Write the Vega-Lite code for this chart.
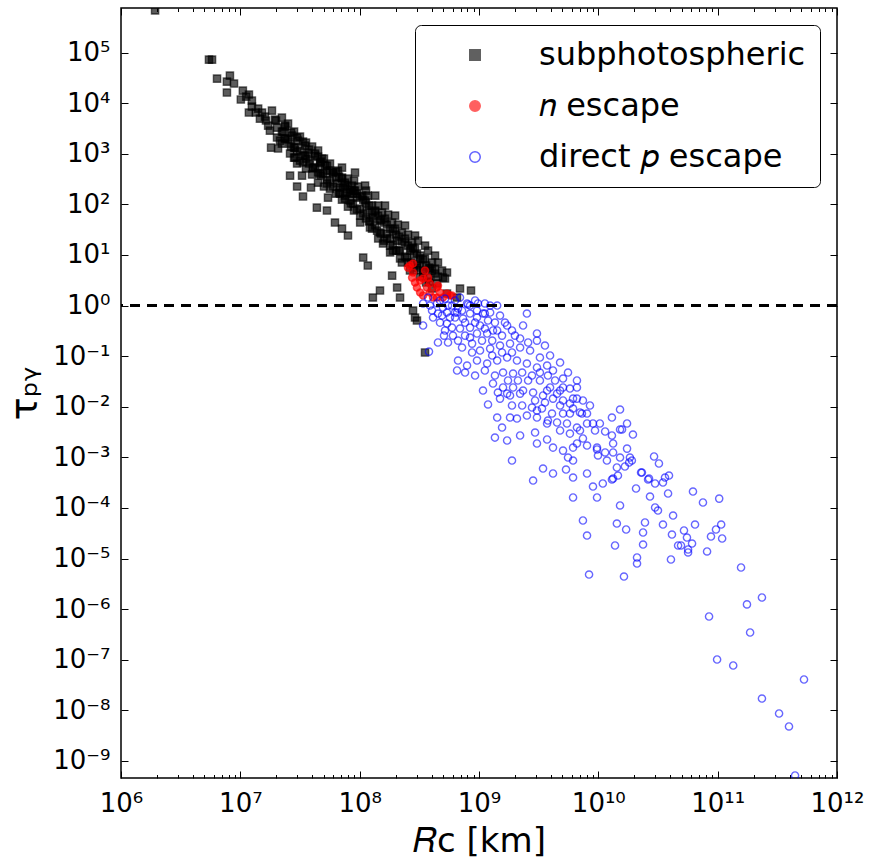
{
  "$schema": "https://vega.github.io/schema/vega-lite/v6.json",
  "width": 716,
  "height": 770,
  "autosize": {"type": "none"},
  "padding": {"left": 121, "top": 8, "right": 35, "bottom": 82},
  "background": "white",
  "config": {
    "font": "DejaVu Sans",
    "view": {"stroke": "#000000", "strokeWidth": 1.5},
    "axis": {"grid": false, "domain": false, "tickColor": "#000000", "tickWidth": 1, "labelColor": "#000000", "labelFont": "DejaVu Sans", "titleFont": "DejaVu Sans", "titleColor": "#000000", "titleFontWeight": "normal", "labelOverlap": false, "labelBound": false, "labelFlush": false}
  },
  "data": {"values": [
    {"s":"sub","R":1.93e6,"t":6.8e5},{"s":"sub","R":5.46e6,"t":7.26e4},{"s":"sub","R":5.79e6,"t":7.26e4},{"s":"sub","R":6.38e6,"t":3.06e4},{"s":"sub","R":8.18e6,"t":3.51e4},{"s":"sub","R":7.72e6,"t":2.67e4},{"s":"sub","R":8.85e6,"t":2.44e4},{"s":"sub","R":7.72e6,"t":1.62e4},{"s":"sub","R":1.05e7,"t":1.77e4},{"s":"sub","R":1.18e7,"t":1.48e4},
    {"s":"sub","R":1.01e7,"t":1.18e4},{"s":"sub","R":1.25e7,"t":8550},{"s":"sub","R":1.41e7,"t":7810},{"s":"sub","R":1.18e7,"t":6520},{"s":"sub","R":1.46e7,"t":4950},{"s":"sub","R":1.61e7,"t":5430},{"s":"sub","R":1.95e7,"t":4730},{"s":"sub","R":1.71e7,"t":3600},{"s":"sub","R":2.03e7,"t":3290},{"s":"sub","R":2.28e7,"t":2740},
    {"s":"sub","R":2.03e7,"t":2090},{"s":"sub","R":2.37e7,"t":2000},{"s":"sub","R":1.81e7,"t":1320},{"s":"sub","R":2.07e7,"t":1270},{"s":"sub","R":2.61e7,"t":1590},{"s":"sub","R":2.87e7,"t":1320},{"s":"sub","R":3.16e7,"t":1160},{"s":"sub","R":2.61e7,"t":1010},{"s":"sub","R":3.48e7,"t":920},{"s":"sub","R":2.99e7,"t":640},
    {"s":"sub","R":3.84e7,"t":733},{"s":"sub","R":4.66e7,"t":670},{"s":"sub","R":4.06e7,"t":510},{"s":"sub","R":2.61e7,"t":370},{"s":"sub","R":3.29e7,"t":370},{"s":"sub","R":4.66e7,"t":406},{"s":"sub","R":5.32e7,"t":465},{"s":"sub","R":2.99e7,"t":225},{"s":"sub","R":3.91e7,"t":215},{"s":"sub","R":5.32e7,"t":258},
    {"s":"sub","R":6.34e7,"t":338},{"s":"sub","R":3.35e7,"t":143},{"s":"sub","R":6.84e7,"t":215},{"s":"sub","R":7.83e7,"t":171},{"s":"sub","R":5.43e7,"t":136},{"s":"sub","R":8.79e7,"t":163},{"s":"sub","R":2.87e7,"t":840},{"s":"sub","R":3.35e7,"t":670},{"s":"sub","R":4.06e7,"t":533},{"s":"sub","R":4.66e7,"t":640},
    {"s":"sub","R":4.93e7,"t":406},{"s":"sub","R":5.64e7,"t":295},{"s":"sub","R":6.46e7,"t":258},{"s":"sub","R":7.25e7,"t":215},{"s":"sub","R":8.3e7,"t":171},{"s":"sub","R":6.84e7,"t":163},{"s":"sub","R":9.5e7,"t":136},{"s":"sub","R":8.79e7,"t":104},{"s":"sub","R":1.0e8,"t":82.6},{"s":"sub","R":1.15e8,"t":75.4},
    {"s":"sub","R":1.29e8,"t":54.8},{"s":"sub","R":1.48e8,"t":47.8},{"s":"sub","R":1.22e8,"t":34.8},{"s":"sub","R":1.4e8,"t":30.3},{"s":"sub","R":1.69e8,"t":26.5},{"s":"sub","R":1.8e8,"t":21.1},{"s":"sub","R":2.06e8,"t":19.2},{"s":"sub","R":1.57e8,"t":16.8},{"s":"sub","R":1.9e8,"t":12.2},{"s":"sub","R":2.18e8,"t":12.2},
    {"s":"sub","R":2.49e8,"t":8.88},{"s":"sub","R":2.8e8,"t":14.0},{"s":"sub","R":3.02e8,"t":6.76},{"s":"sub","R":2.64e8,"t":4.92},{"s":"sub","R":3.4e8,"t":4.92},{"s":"sub","R":3.88e8,"t":3.57},{"s":"sub","R":4.44e8,"t":2.72},{"s":"sub","R":4.99e8,"t":3.57},{"s":"sub","R":5.39e8,"t":1.73},{"s":"sub","R":6.54e8,"t":1.44},
    {"s":"sub","R":6.93e8,"t":2.17},{"s":"sub","R":5.39e8,"t":4.49},{"s":"sub","R":8.57e8,"t":1.98},{"s":"sub","R":4.38e7,"t":86.4},{"s":"sub","R":5.32e7,"t":75.4},{"s":"sub","R":6.21e7,"t":43.7},{"s":"sub","R":7.11e7,"t":33.2},{"s":"sub","R":7.98e7,"t":24.2},{"s":"sub","R":1.07e8,"t":8.88},{"s":"sub","R":1.17e8,"t":6.17},
    {"s":"sub","R":1.29e8,"t":1.44},{"s":"sub","R":1.48e8,"t":1.98},{"s":"sub","R":1.87e8,"t":3.91},{"s":"sub","R":2.06e8,"t":2.27},{"s":"sub","R":2.18e8,"t":1.44},{"s":"sub","R":2.8e8,"t":0.797},{"s":"sub","R":3.02e8,"t":0.505},{"s":"sub","R":3.53e8,"t":0.118},{"s":"sub","R":2.91e8,"t":0.579},
    {"s":"sub","R":2.37e7,"t":3600},{"s":"sub","R":2.71e7,"t":2290},{"s":"sub","R":3.04e7,"t":1820},{"s":"sub","R":3.48e7,"t":1450},{"s":"sub","R":3.69e7,"t":1050},{"s":"sub","R":4.23e7,"t":920},{"s":"sub","R":4.48e7,"t":1160},{"s":"sub","R":4.83e7,"t":800},{"s":"sub","R":5.13e7,"t":584},{"s":"sub","R":5.64e7,"t":640},
    {"s":"sub","R":5.98e7,"t":425},{"s":"sub","R":6.58e7,"t":465},{"s":"sub","R":7.11e7,"t":323},{"s":"sub","R":7.54e7,"t":269},{"s":"sub","R":7.98e7,"t":323},{"s":"sub","R":8.63e7,"t":235},{"s":"sub","R":9.14e7,"t":187},{"s":"sub","R":9.68e7,"t":225},{"s":"sub","R":1.05e8,"t":149},{"s":"sub","R":1.11e8,"t":119},
    {"s":"sub","R":1.17e8,"t":149},{"s":"sub","R":1.27e8,"t":94.6},{"s":"sub","R":1.35e8,"t":75.4},{"s":"sub","R":1.43e8,"t":94.6},{"s":"sub","R":1.54e8,"t":68.8},{"s":"sub","R":1.63e8,"t":52.4},{"s":"sub","R":1.73e8,"t":62.8},{"s":"sub","R":1.87e8,"t":43.7},{"s":"sub","R":1.98e8,"t":33.2},{"s":"sub","R":2.09e8,"t":39.9},
    {"s":"sub","R":2.26e8,"t":27.7},{"s":"sub","R":2.4e8,"t":21.1},{"s":"sub","R":2.54e8,"t":25.3},{"s":"sub","R":2.75e8,"t":17.6},{"s":"sub","R":2.91e8,"t":13.4},{"s":"sub","R":3.08e8,"t":19.2},{"s":"sub","R":3.21e8,"t":9.73},{"s":"sub","R":3.53e8,"t":8.49},{"s":"sub","R":3.74e8,"t":12.2},{"s":"sub","R":4.04e8,"t":7.08},
    {"s":"sub","R":4.28e8,"t":5.38},{"s":"sub","R":4.53e8,"t":7.08},{"s":"sub","R":4.9e8,"t":4.92},{"s":"sub","R":5.19e8,"t":3.42},{"s":"sub","R":8.3e7,"t":119},{"s":"sub","R":7.54e7,"t":149},{"s":"sub","R":9.14e7,"t":425},{"s":"sub","R":1.11e8,"t":235},{"s":"sub","R":1.35e8,"t":149},{"s":"sub","R":1.63e8,"t":94.6},
    {"s":"sub","R":1.98e8,"t":60.0},{"s":"sub","R":2.4e8,"t":38.1},{"s":"sub","R":2.91e8,"t":24.2},{"s":"sub","R":3.53e8,"t":15.3},{"s":"sub","R":4.28e8,"t":9.73},{"s":"sub","R":1.01e8,"t":60.0},{"s":"sub","R":1.22e8,"t":47.8},{"s":"sub","R":1.48e8,"t":27.7},{"s":"sub","R":1.8e8,"t":15.3},{"s":"sub","R":2.18e8,"t":8.49},
    {"s":"sub","R":2.64e8,"t":12.2},{"s":"sub","R":3.21e8,"t":6.17},{"s":"sub","R":3.88e8,"t":5.38},
    {"s":"sub","R":2.23e7,"t":5190},{"s":"sub","R":2.23e7,"t":2740},{"s":"sub","R":2.23e7,"t":1590},{"s":"sub","R":2.51e7,"t":3950},{"s":"sub","R":2.51e7,"t":1910},{"s":"sub","R":2.82e7,"t":2740},{"s":"sub","R":2.82e7,"t":1320},{"s":"sub","R":2.82e7,"t":840},{"s":"sub","R":3.16e7,"t":2180},{"s":"sub","R":3.16e7,"t":733},
    {"s":"sub","R":3.55e7,"t":1660},{"s":"sub","R":3.55e7,"t":803},{"s":"sub","R":3.55e7,"t":510},{"s":"sub","R":3.99e7,"t":1390},{"s":"sub","R":3.99e7,"t":388},{"s":"sub","R":4.48e7,"t":880},{"s":"sub","R":4.48e7,"t":425},{"s":"sub","R":4.48e7,"t":269},{"s":"sub","R":5.02e7,"t":803},{"s":"sub","R":5.02e7,"t":225},
    {"s":"sub","R":5.64e7,"t":465},{"s":"sub","R":5.64e7,"t":205},{"s":"sub","R":6.34e7,"t":444},{"s":"sub","R":6.34e7,"t":163},{"s":"sub","R":7.11e7,"t":338},{"s":"sub","R":7.11e7,"t":124},{"s":"sub","R":7.11e7,"t":533},{"s":"sub","R":7.98e7,"t":225},{"s":"sub","R":7.98e7,"t":90.4},{"s":"sub","R":8.97e7,"t":187},
    {"s":"sub","R":8.97e7,"t":75.4},{"s":"sub","R":8.97e7,"t":295},{"s":"sub","R":1.01e8,"t":143},{"s":"sub","R":1.01e8,"t":43.7},{"s":"sub","R":1.13e8,"t":108},{"s":"sub","R":1.13e8,"t":52.4},{"s":"sub","R":1.13e8,"t":187},{"s":"sub","R":1.27e8,"t":68.8},{"s":"sub","R":1.27e8,"t":33.2},{"s":"sub","R":1.43e8,"t":60.0},
    {"s":"sub","R":1.43e8,"t":21.1},{"s":"sub","R":1.60e8,"t":43.7},{"s":"sub","R":1.60e8,"t":19.2},{"s":"sub","R":1.80e8,"t":33.2},{"s":"sub","R":1.80e8,"t":11.2},{"s":"sub","R":2.02e8,"t":25.3},{"s":"sub","R":2.02e8,"t":12.2},{"s":"sub","R":2.26e8,"t":18.4},{"s":"sub","R":2.26e8,"t":7.08},{"s":"sub","R":2.54e8,"t":15.3},
    {"s":"sub","R":2.54e8,"t":7.08},{"s":"sub","R":2.85e8,"t":10.2},{"s":"sub","R":2.85e8,"t":4.92},{"s":"sub","R":3.21e8,"t":8.49},{"s":"sub","R":3.21e8,"t":3.74},{"s":"sub","R":3.60e8,"t":6.17},{"s":"sub","R":3.60e8,"t":2.85},{"s":"sub","R":4.04e8,"t":4.92},{"s":"sub","R":4.04e8,"t":2.17},{"s":"sub","R":4.53e8,"t":3.74},
    {"s":"sub","R":1.12e7,"t":1.35e4},{"s":"sub","R":1.25e7,"t":1.12e4},{"s":"sub","R":1.35e7,"t":6520},{"s":"sub","R":1.52e7,"t":6520},{"s":"sub","R":1.64e7,"t":4530},{"s":"sub","R":1.77e7,"t":2870},{"s":"sub","R":1.84e7,"t":7130},{"s":"sub","R":1.99e7,"t":4530},{"s":"sub","R":2.15e7,"t":1820},
    {"s":"sub","R":2.37e7,"t":3440},{"s":"sub","R":2.37e7,"t":2000},{"s":"sub","R":2.66e7,"t":2620},{"s":"sub","R":2.66e7,"t":1390},{"s":"sub","R":2.99e7,"t":2090},{"s":"sub","R":2.99e7,"t":1100},{"s":"sub","R":3.35e7,"t":1740},{"s":"sub","R":3.35e7,"t":920},{"s":"sub","R":3.76e7,"t":1210},{"s":"sub","R":3.76e7,"t":640},
    {"s":"sub","R":4.23e7,"t":1010},{"s":"sub","R":4.23e7,"t":533},{"s":"sub","R":4.74e7,"t":700},{"s":"sub","R":4.74e7,"t":371},{"s":"sub","R":5.32e7,"t":584},{"s":"sub","R":5.32e7,"t":309},{"s":"sub","R":5.98e7,"t":425},{"s":"sub","R":5.98e7,"t":225},{"s":"sub","R":6.71e7,"t":354},{"s":"sub","R":6.71e7,"t":171},
    {"s":"sub","R":7.54e7,"t":246},{"s":"sub","R":7.54e7,"t":130},{"s":"sub","R":8.45e7,"t":196},{"s":"sub","R":8.45e7,"t":104},{"s":"sub","R":9.5e7,"t":163},{"s":"sub","R":9.5e7,"t":78.9},{"s":"sub","R":1.07e8,"t":124},{"s":"sub","R":1.07e8,"t":65.8},{"s":"sub","R":1.20e8,"t":94.6},{"s":"sub","R":1.20e8,"t":45.7},
    {"s":"sub","R":1.35e8,"t":72.0},{"s":"sub","R":1.35e8,"t":38.1},{"s":"sub","R":1.51e8,"t":50.0},{"s":"sub","R":1.51e8,"t":26.5},{"s":"sub","R":1.69e8,"t":39.9},{"s":"sub","R":1.69e8,"t":21.1},{"s":"sub","R":1.90e8,"t":30.3},{"s":"sub","R":1.90e8,"t":16.0},{"s":"sub","R":2.14e8,"t":23.1},{"s":"sub","R":2.14e8,"t":12.2},
    {"s":"sub","R":2.40e8,"t":17.6},{"s":"sub","R":2.40e8,"t":9.29},{"s":"sub","R":2.69e8,"t":13.4},{"s":"sub","R":2.69e8,"t":7.08},{"s":"sub","R":3.02e8,"t":10.7},{"s":"sub","R":3.02e8,"t":5.63},{"s":"sub","R":3.40e8,"t":8.11},{"s":"sub","R":3.40e8,"t":4.29},{"s":"sub","R":3.81e8,"t":5.63},{"s":"sub","R":3.81e8,"t":2.98},
    {"s":"sub","R":4.28e8,"t":4.29},
    {"s":"n","R":2.64e8,"t":6.17},{"s":"n","R":2.8e8,"t":4.49},{"s":"n","R":2.75e8,"t":3.57},{"s":"n","R":3.21e8,"t":3.12},{"s":"n","R":3.74e8,"t":3.57},{"s":"n","R":3.88e8,"t":2.72},{"s":"n","R":3.02e8,"t":2.27},{"s":"n","R":3.21e8,"t":1.81},{"s":"n","R":3.88e8,"t":1.81},{"s":"n","R":4.53e8,"t":2.48},
    {"s":"n","R":4.71e8,"t":1.81},{"s":"n","R":5.39e8,"t":1.73},{"s":"n","R":5.94e8,"t":1.58},{"s":"n","R":3.4e8,"t":1.58},{"s":"n","R":4.12e8,"t":1.44},{"s":"n","R":4.99e8,"t":1.44},{"s":"n","R":2.8e8,"t":6.76},{"s":"n","R":2.54e8,"t":5.63},{"s":"n","R":3.4e8,"t":3.42},{"s":"n","R":3.66e8,"t":2.27},
    {"s":"n","R":4.44e8,"t":2.27},{"s":"n","R":4.44e8,"t":1.44},{"s":"n","R":5.71e8,"t":1.58},{"s":"n","R":2.91e8,"t":2.85},{"s":"n","R":3.53e8,"t":4.92},
    {"s":"p","R":3.40e8,"t":1.10},{"s":"p","R":3.88e8,"t":1.0},{"s":"p","R":4.45e8,"t":1.10},{"s":"p","R":4.99e8,"t":0.913},{"s":"p","R":5.39e8,"t":0.727},{"s":"p","R":5.94e8,"t":1.0},{"s":"p","R":6.67e8,"t":0.873},{"s":"p","R":7.94e8,"t":1.10},{"s":"p","R":4.53e8,"t":0.695},{"s":"p","R":4.12e8,"t":0.579},
    {"s":"p","R":3.40e8,"t":0.403},{"s":"p","R":4.71e8,"t":0.461},{"s":"p","R":5.39e8,"t":0.441},{"s":"p","R":6.30e8,"t":0.579},{"s":"p","R":7.35e8,"t":0.553},{"s":"p","R":8.41e8,"t":0.695},{"s":"p","R":9.62e8,"t":0.579},{"s":"p","R":1.08e9,"t":0.695},{"s":"p","R":1.42e9,"t":1.0},{"s":"p","R":1.50e9,"t":0.634},
    {"s":"p","R":1.02e9,"t":0.403},{"s":"p","R":8.41e8,"t":0.367},{"s":"p","R":6.93e8,"t":0.351},{"s":"p","R":5.19e8,"t":0.321},{"s":"p","R":6.05e8,"t":0.255},{"s":"p","R":4.53e8,"t":0.186},{"s":"p","R":5.50e8,"t":0.186},{"s":"p","R":7.64e8,"t":0.255},{"s":"p","R":9.62e8,"t":0.280},{"s":"p","R":1.31e9,"t":0.321},
    {"s":"p","R":1.72e9,"t":0.403},{"s":"p","R":2.34e9,"t":0.403},{"s":"p","R":2.52e9,"t":0.695},{"s":"p","R":1.65e9,"t":0.461},{"s":"p","R":3.81e8,"t":0.123},{"s":"p","R":8.09e8,"t":1.05},{"s":"p","R":1.12e9,"t":0.695},{"s":"p","R":1.19e9,"t":0.505},{"s":"p","R":4.90e8,"t":0.634},{"s":"p","R":5.71e8,"t":0.579},
    {"s":"p","R":6.55e8,"t":0.727},{"s":"p","R":9.62e8,"t":0.797},{"s":"p","R":1.12e9,"t":1.10},{"s":"p","R":7.21e8,"t":0.148},{"s":"p","R":8.75e8,"t":0.177},{"s":"p","R":1.17e9,"t":0.280},{"s":"p","R":1.42e9,"t":0.321},{"s":"p","R":2.00e9,"t":0.255},{"s":"p","R":3.06e9,"t":0.280},{"s":"p","R":3.06e9,"t":0.203},
    {"s":"p","R":1.82e9,"t":0.177},{"s":"p","R":1.50e9,"t":0.162},{"s":"p","R":1.24e9,"t":0.141},{"s":"p","R":1.02e9,"t":0.129},{"s":"p","R":2.21e9,"t":0.148},{"s":"p","R":2.68e9,"t":0.129},{"s":"p","R":3.24e9,"t":0.0938},{"s":"p","R":3.74e8,"t":1.44},{"s":"p","R":5.19e8,"t":1.37},{"s":"p","R":6.93e8,"t":1.44},
    {"s":"p","R":9.27e8,"t":1.26},{"s":"p","R":6.30e8,"t":1.26},{"s":"p","R":1.24e9,"t":1.0},
    {"s":"p","R":4.04e8,"t":0.797},{"s":"p","R":4.71e8,"t":1.26},{"s":"p","R":5.50e8,"t":1.0},{"s":"p","R":6.30e8,"t":0.727},{"s":"p","R":7.21e8,"t":0.797},{"s":"p","R":8.41e8,"t":1.0},{"s":"p","R":9.8e8,"t":1.10},{"s":"p","R":1.24e9,"t":0.727},{"s":"p","R":1.36e9,"t":0.461},{"s":"p","R":1.12e9,"t":0.351},
    {"s":"p","R":9.27e8,"t":0.461},{"s":"p","R":7.64e8,"t":0.461},{"s":"p","R":5.94e8,"t":0.367},{"s":"p","R":5.09e8,"t":0.255},{"s":"p","R":6.67e8,"t":0.203},{"s":"p","R":8.41e8,"t":0.233},{"s":"p","R":1.06e9,"t":0.203},{"s":"p","R":1.29e9,"t":0.203},{"s":"p","R":1.56e9,"t":0.255},{"s":"p","R":1.89e9,"t":0.321},
    {"s":"p","R":2.21e9,"t":0.223},{"s":"p","R":2.58e9,"t":0.186},{"s":"p","R":3.57e9,"t":0.162},{"s":"p","R":3.94e9,"t":0.103},{"s":"p","R":1.89e9,"t":0.118},{"s":"p","R":1.56e9,"t":0.118},{"s":"p","R":1.29e9,"t":0.103},{"s":"p","R":8.75e8,"t":0.118},{"s":"p","R":3.24e9,"t":0.0474},{"s":"p","R":2.58e9,"t":0.0330},
    {"s":"p","R":2.12e9,"t":0.0330},{"s":"p","R":1.75e9,"t":0.0330},{"s":"p","R":1.44e9,"t":0.0191},{"s":"p","R":3.78e9,"t":0.0414},{"s":"p","R":4.34e9,"t":0.0330},{"s":"p","R":5.57e9,"t":0.0474},{"s":"p","R":4.78e9,"t":0.0106},{"s":"p","R":3.57e9,"t":0.0121},{"s":"p","R":2.95e9,"t":0.0133},{"s":"p","R":8.51e9,"t":0.0106},
    {"s":"p","R":9.38e9,"t":0.00339},{"s":"p","R":1.30e10,"t":0.00270},
    {"s":"p","R":3.72e9,"t":0.0652},{"s":"p","R":4.78e9,"t":0.0748},{"s":"p","R":4.17e9,"t":0.0520},{"s":"p","R":5.06e9,"t":0.0361},{"s":"p","R":6.62e9,"t":0.0330},{"s":"p","R":3.06e9,"t":0.0596},{"s":"p","R":2.52e9,"t":0.0714},{"s":"p","R":2.08e9,"t":0.0819},{"s":"p","R":1.72e9,"t":0.0938},{"s":"p","R":1.42e9,"t":0.0819},
    {"s":"p","R":1.17e9,"t":0.0714},{"s":"p","R":9.62e8,"t":0.0819},{"s":"p","R":7.94e8,"t":0.0652},{"s":"p","R":6.67e8,"t":0.0819},{"s":"p","R":6.55e8,"t":0.0520},{"s":"p","R":7.64e8,"t":0.0474},{"s":"p","R":9.27e8,"t":0.0414},{"s":"p","R":1.12e9,"t":0.0520},{"s":"p","R":1.36e9,"t":0.0414},{"s":"p","R":1.59e9,"t":0.0474},
    {"s":"p","R":1.93e9,"t":0.0453},{"s":"p","R":2.30e9,"t":0.0474},{"s":"p","R":2.78e9,"t":0.0414},{"s":"p","R":3.24e9,"t":0.0330},{"s":"p","R":3.94e9,"t":0.0240},{"s":"p","R":4.78e9,"t":0.0209},{"s":"p","R":5.78e9,"t":0.0229},{"s":"p","R":6.14e9,"t":0.0145},{"s":"p","R":5.06e9,"t":0.0133},{"s":"p","R":4.17e9,"t":0.0145},
    {"s":"p","R":3.44e9,"t":0.0167},{"s":"p","R":2.84e9,"t":0.0191},{"s":"p","R":2.34e9,"t":0.0209},{"s":"p","R":1.93e9,"t":0.0240},{"s":"p","R":1.59e9,"t":0.0240},{"s":"p","R":1.31e9,"t":0.0288},{"s":"p","R":1.08e9,"t":0.0209},{"s":"p","R":1.50e9,"t":0.0145},{"s":"p","R":1.82e9,"t":0.0167},{"s":"p","R":2.30e9,"t":0.0106},
    {"s":"p","R":2.78e9,"t":0.00964},{"s":"p","R":3.37e9,"t":0.00922},{"s":"p","R":4.09e9,"t":0.00734},{"s":"p","R":5.06e9,"t":0.00734},{"s":"p","R":6.14e9,"t":0.00922},{"s":"p","R":7.29e9,"t":0.00734},{"s":"p","R":1.19e9,"t":0.0111},{"s":"p","R":1.42e9,"t":0.00612},{"s":"p","R":1.72e9,"t":0.0182},{"s":"p","R":2.21e9,"t":0.0182},
    {"s":"p","R":3.72e9,"t":0.0209},{"s":"p","R":4.51e9,"t":0.0182},{"s":"p","R":5.06e9,"t":0.0240},{"s":"p","R":6.62e9,"t":0.0240},{"s":"p","R":6.62e9,"t":0.0145},{"s":"p","R":7.43e9,"t":0.0133},{"s":"p","R":5.78e9,"t":0.0116},{"s":"p","R":8.04e9,"t":0.00734},{"s":"p","R":7.02e9,"t":0.00769},{"s":"p","R":5.78e9,"t":0.00734},
    {"s":"p","R":2.08e9,"t":0.00585},{"s":"p","R":2.52e9,"t":0.00670},{"s":"p","R":3.06e9,"t":0.00842},{"s":"p","R":1.89e9,"t":0.0106},
    {"s":"p","R":8.04e9,"t":0.00466},{"s":"p","R":6.62e9,"t":0.00388},{"s":"p","R":5.46e9,"t":0.00466},{"s":"p","R":4.51e9,"t":0.00488},{"s":"p","R":3.72e9,"t":0.00466},{"s":"p","R":3.06e9,"t":0.00612},{"s":"p","R":1.82e9,"t":0.00612},{"s":"p","R":1.56e9,"t":0.00388},{"s":"p","R":2.95e9,"t":0.00309},{"s":"p","R":2.21e9,"t":0.00270},
    {"s":"p","R":1.72e9,"t":0.00215},{"s":"p","R":1.36e9,"t":0.00246},{"s":"p","R":3.06e9,"t":0.00188},{"s":"p","R":4.17e9,"t":0.00156},{"s":"p","R":6.14e9,"t":0.00156},{"s":"p","R":8.04e9,"t":0.00171},{"s":"p","R":9.75e9,"t":0.00156},{"s":"p","R":1.89e9,"t":0.000865},{"s":"p","R":3.72e9,"t":0.00225},{"s":"p","R":5.06e9,"t":0.00136},
    {"s":"p","R":6.14e9,"t":0.000865},{"s":"p","R":5.57e9,"t":0.000991},{"s":"p","R":5.36e9,"t":0.000574},{"s":"p","R":6.14e9,"t":0.000399},{"s":"p","R":3.44e9,"t":0.000601},{"s":"p","R":4.17e9,"t":0.000479},{"s":"p","R":2.84e9,"t":0.000348},{"s":"p","R":7.02e9,"t":0.00339},{"s":"p","R":7.43e9,"t":0.00236},{"s":"p","R":6.62e9,"t":0.00188},
    {"s":"p","R":5.78e9,"t":0.00295},{"s":"p","R":4.78e9,"t":0.00339},{"s":"p","R":3.78e9,"t":0.00534},{"s":"p","R":1.52e10,"t":0.00881},{"s":"p","R":1.74e10,"t":0.00466},{"s":"p","R":1.52e10,"t":0.00355},{"s":"p","R":1.95e10,"t":0.00282},{"s":"p","R":1.30e10,"t":0.00612},{"s":"p","R":1.03e10,"t":0.00466},{"s":"p","R":9.02e9,"t":0.00466},
    {"s":"p","R":1.14e10,"t":0.00324},{"s":"p","R":9.75e9,"t":0.00143},{"s":"p","R":9.93e9,"t":0.00109},{"s":"p","R":1.18e10,"t":0.000865},{"s":"p","R":1.14e10,"t":0.00125},{"s":"p","R":1.33e10,"t":0.00188},{"s":"p","R":1.33e10,"t":0.00125},{"s":"p","R":1.74e10,"t":0.00149},{"s":"p","R":1.84e10,"t":0.000991},{"s":"p","R":1.52e10,"t":0.000991},
    {"s":"p","R":1.81e10,"t":0.000790},{"s":"p","R":1.67e10,"t":0.000659},{"s":"p","R":1.58e10,"t":0.00355},
    {"s":"p","R":8.04e9,"t":0.000479},{"s":"p","R":9.02e9,"t":0.000265},{"s":"p","R":9.75e9,"t":0.000161},{"s":"p","R":1.09e10,"t":0.000304},{"s":"p","R":1.33e10,"t":0.000381},{"s":"p","R":1.43e10,"t":0.000630},{"s":"p","R":1.91e10,"t":0.000865},{"s":"p","R":6.14e9,"t":0.000161},{"s":"p","R":7.43e9,"t":5.65e-5},{"s":"p","R":8.04e9,"t":2.85e-5},
    {"s":"p","R":1.52e10,"t":0.000112},{"s":"p","R":1.43e10,"t":4.92e-5},{"s":"p","R":1.71e10,"t":3.75e-5},{"s":"p","R":1.38e10,"t":1.81e-5},{"s":"p","R":2.07e10,"t":0.000242},{"s":"p","R":2.28e10,"t":0.000501},{"s":"p","R":2.66e10,"t":0.000381},{"s":"p","R":2.71e10,"t":0.000168},{"s":"p","R":2.99e10,"t":0.000102},{"s":"p","R":3.16e10,"t":8.89e-5},
    {"s":"p","R":2.46e10,"t":5.15e-5},{"s":"p","R":2.37e10,"t":3.27e-5},{"s":"p","R":2.37e10,"t":1.89e-5},{"s":"p","R":2.93e10,"t":0.00104},{"s":"p","R":3.22e10,"t":0.000755},{"s":"p","R":3.62e10,"t":0.000399},{"s":"p","R":3.91e10,"t":0.000437},{"s":"p","R":3.84e10,"t":0.000193},{"s":"p","R":3.48e10,"t":4.70e-5},{"s":"p","R":4.23e10,"t":7.08e-5},
    {"s":"p","R":4.14e10,"t":2.98e-5},{"s":"p","R":4.66e10,"t":1.81e-5},{"s":"p","R":1.30e10,"t":0.000364},{"s":"p","R":1.46e10,"t":0.000437},{"s":"p","R":8.36e9,"t":4.83e-6},{"s":"p","R":1.64e10,"t":4.41e-6},{"s":"p","R":2.11e10,"t":1.05e-5},{"s":"p","R":2.11e10,"t":7.98e-6},{"s":"p","R":4.06e10,"t":9.57e-6},{"s":"p","R":4.93e10,"t":1.81e-5},
    {"s":"p","R":5.22e10,"t":3.58e-5},{"s":"p","R":5.53e10,"t":2.60e-5},{"s":"p","R":6.10e10,"t":1.98e-5},{"s":"p","R":5.65e10,"t":1.51e-5},{"s":"p","R":5.65e10,"t":1.32e-5},{"s":"p","R":6.46e10,"t":4.70e-5},{"s":"p","R":8.15e10,"t":1.38e-5},{"s":"p","R":6.21e10,"t":0.000211},{"s":"p","R":7.53e10,"t":0.000128},{"s":"p","R":1.03e11,"t":0.000153},
    {"s":"p","R":8.79e10,"t":2.72e-5},{"s":"p","R":9.68e10,"t":3.75e-5},{"s":"p","R":1.07e11,"t":4.70e-5},{"s":"p","R":1.09e11,"t":2.49e-5},{"s":"p","R":2.32e10,"t":0.000501},{"s":"p","R":2.61e10,"t":0.000364},{"s":"p","R":2.99e10,"t":0.000304},{"s":"p","R":3.48e10,"t":0.000318},
    {"s":"p","R":1.57e11,"t":6.65e-6},{"s":"p","R":2.35e11,"t":1.70e-6},{"s":"p","R":1.76e11,"t":1.24e-6},{"s":"p","R":8.47e10,"t":7.16e-7},{"s":"p","R":1.87e11,"t":3.45e-7},{"s":"p","R":9.89e10,"t":1.01e-7},{"s":"p","R":1.35e11,"t":7.69e-8},{"s":"p","R":5.29e11,"t":4.07e-8},{"s":"p","R":2.35e11,"t":1.71e-8},{"s":"p","R":3.27e11,"t":8.67e-9},
    {"s":"p","R":3.96e11,"t":4.80e-9},{"s":"p","R":4.45e11,"t":5.16e-10}
  ]},
  "layer": [
    {
      "mark": {"type": "point", "filled": true, "size": 52, "strokeWidth": 1.4, "fillOpacity": 0.64, "strokeOpacity": 0.6, "clip": true},
      "encoding": {
        "x": {"field": "R", "type": "quantitative",
          "scale": {"type": "log", "domain": [1e6, 1e12], "nice": false},
          "axis": {"orient": "bottom", "values": [1e6, 1e7, 1e8, 1e9, 1e10, 1e11, 1e12], "tickSize": -7, "labelPadding": 19, "labelFontSize": 26,
            "labelExpr": "'10' + (round(log(datum.value)/LN10) < 0 ? '⁻' : '') + ['⁰','¹','²','³','⁴','⁵','⁶','⁷','⁸','⁹','¹⁰','¹¹','¹²'][abs(round(log(datum.value)/LN10))]",
            "title": "𝑅ᴄ [km]", "titleFontSize": 34, "titlePadding": 8}},
        "y": {"field": "t", "type": "quantitative",
          "scale": {"type": "log", "domain": [4.6e-10, 7.6e5], "nice": false},
          "axis": {"orient": "left", "values": [1e-9, 1e-8, 1e-7, 1e-6, 1e-5, 1e-4, 1e-3, 1e-2, 1e-1, 1, 10, 100, 1000, 1e4, 1e5], "tickSize": -7, "labelPadding": 18, "labelFontSize": 26,
            "labelExpr": "'10' + (round(log(datum.value)/LN10) < 0 ? '⁻' : '') + ['⁰','¹','²','³','⁴','⁵','⁶','⁷','⁸','⁹','¹⁰','¹¹','¹²'][abs(round(log(datum.value)/LN10))]",
            "title": "τₚᵧ", "titleFontSize": 38, "titlePadding": 8}},
        "shape": {"field": "s", "type": "nominal", "scale": {"domain": ["sub", "n", "p"], "range": ["square", "circle", "circle"]}},
        "fill": {"field": "s", "type": "nominal", "scale": {"domain": ["sub", "n", "p"], "range": ["#000000", "#ff0000", "transparent"]}},
        "stroke": {"field": "s", "type": "nominal", "scale": {"domain": ["sub", "n", "p"], "range": ["#000000", "#ff0000", "#0000ff"]},
          "legend": {"title": null, "orient": "top-right", "offset": 17, "fillColor": "white", "strokeColor": "#000000", "cornerRadius": 6, "padding": 14, "labelFontSize": 32, "labelLimit": 500, "labelColor": "#000000", "labelFont": "DejaVu Sans", "symbolSize": 110, "symbolOpacity": 0.62, "symbolStrokeWidth": 1.5, "symbolOffset": 30, "labelOffset": 48, "rowPadding": 19,
            "labelExpr": "datum.value == 'sub' ? 'subphotospheric' : (datum.value == 'n' ? '𝑛 escape' : 'direct 𝑝 escape')"}}
      }
    },
    {
      "mark": {"type": "rule", "strokeDash": [10, 7], "strokeWidth": 2.5, "color": "#000000"},
      "encoding": {
        "y": {"datum": 1, "type": "quantitative",
          "scale": {"type": "log", "domain": [4.6e-10, 7.6e5], "nice": false},
          "axis": {"orient": "right", "values": [1e-9, 1e-8, 1e-7, 1e-6, 1e-5, 1e-4, 1e-3, 1e-2, 1e-1, 1, 10, 100, 1000, 1e4, 1e5], "tickSize": -7, "labels": false, "title": null}}
      }
    },
    {
      "mark": {"type": "rule", "opacity": 0},
      "encoding": {
        "x": {"datum": 1e9, "type": "quantitative",
          "scale": {"type": "log", "domain": [1e6, 1e12], "nice": false},
          "axis": {"orient": "bottom", "values": [2e6,3e6,4e6,5e6,6e6,7e6,8e6,9e6,2e7,3e7,4e7,5e7,6e7,7e7,8e7,9e7,2e8,3e8,4e8,5e8,6e8,7e8,8e8,9e8,2e9,3e9,4e9,5e9,6e9,7e9,8e9,9e9,2e10,3e10,4e10,5e10,6e10,7e10,8e10,9e10,2e11,3e11,4e11,5e11,6e11,7e11,8e11,9e11], "tickSize": -3.5, "labels": false, "title": null}}
      }
    },
    {
      "mark": {"type": "rule", "opacity": 0},
      "encoding": {
        "x": {"datum": 1e9, "type": "quantitative",
          "scale": {"type": "log", "domain": [1e6, 1e12], "nice": false},
          "axis": {"orient": "top", "values": [1e6, 1e7, 1e8, 1e9, 1e10, 1e11, 1e12], "tickSize": -7, "labels": false, "title": null}}
      }
    },
    {
      "mark": {"type": "rule", "opacity": 0},
      "encoding": {
        "x": {"datum": 1e9, "type": "quantitative",
          "scale": {"type": "log", "domain": [1e6, 1e12], "nice": false},
          "axis": {"orient": "top", "values": [2e6,3e6,4e6,5e6,6e6,7e6,8e6,9e6,2e7,3e7,4e7,5e7,6e7,7e7,8e7,9e7,2e8,3e8,4e8,5e8,6e8,7e8,8e8,9e8,2e9,3e9,4e9,5e9,6e9,7e9,8e9,9e9,2e10,3e10,4e10,5e10,6e10,7e10,8e10,9e10,2e11,3e11,4e11,5e11,6e11,7e11,8e11,9e11], "tickSize": -3.5, "labels": false, "title": null}}
      }
    }
  ],
  "resolve": {"axis": {"x": "independent", "y": "independent"}}
}
